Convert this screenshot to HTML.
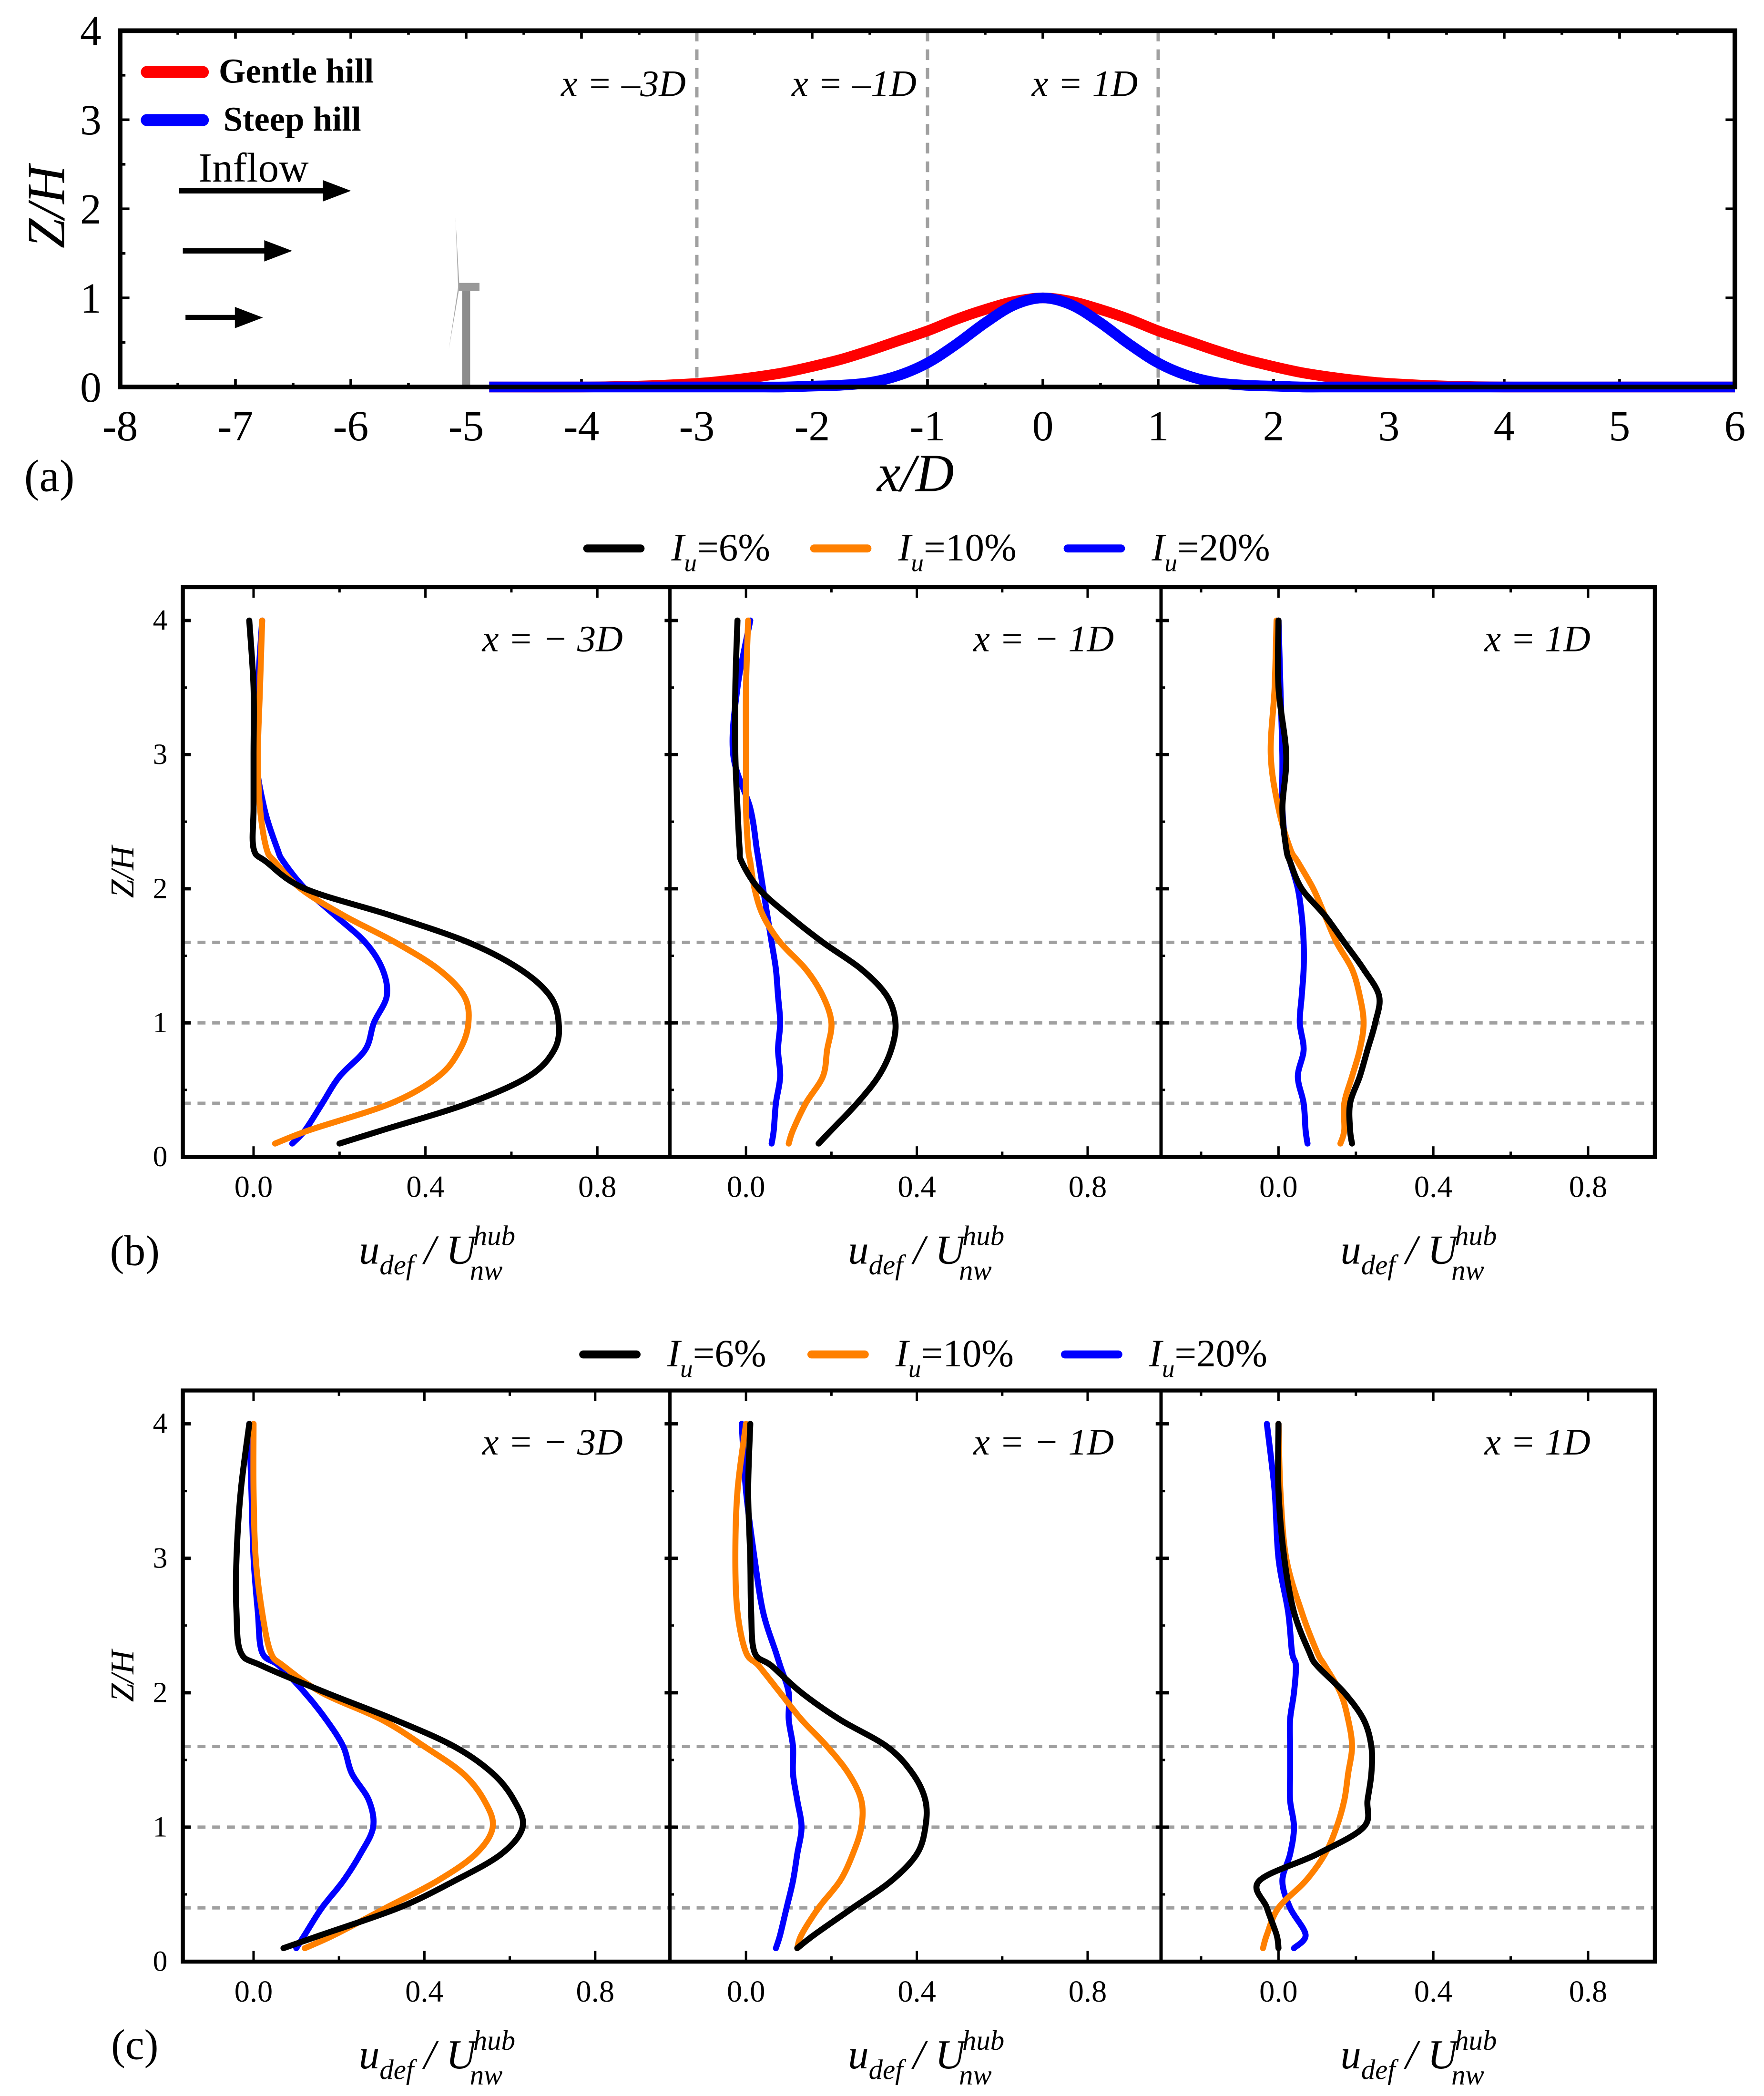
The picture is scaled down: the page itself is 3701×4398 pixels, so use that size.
<!DOCTYPE html>
<html><head><meta charset="utf-8"><style>
html,body{margin:0;padding:0;background:#fff}
svg{display:block;font-family:"Liberation Serif","Times New Roman",serif}
text{font-family:"Liberation Serif","Times New Roman",serif}
</style></head><body>
<svg id="fig" xmlns="http://www.w3.org/2000/svg" width="3701" height="4398" viewBox="0 0 1321.8 1570.7" preserveAspectRatio="none" font-family="Liberation Serif, serif"></svg>
<script>
// ---- Panel (a) data ----
const hillX = [-4.8,-4,-3.5,-3,-2.75,-2.5,-2.25,-2,-1.75,-1.5,-1.25,-1,-0.75,-0.5,-0.25,0,0.25,0.5,0.75,1,1.25,1.5,1.75,2,2.25,2.5,2.75,3,3.5,4,5,6];
const gentleZ = [0,0,0.01,0.04,0.07,0.11,0.16,0.23,0.31,0.41,0.52,0.63,0.76,0.87,0.96,1,0.96,0.87,0.76,0.63,0.52,0.41,0.31,0.23,0.16,0.11,0.07,0.04,0.01,0,0,0];
const steepZ = [0,0,0,0,0,0,0,0.01,0.02,0.05,0.13,0.27,0.48,0.72,0.92,1,0.92,0.72,0.48,0.27,0.13,0.05,0.02,0.01,0,0,0,0,0,0,0,0];
const aXTicks = [-8,-7,-6,-5,-4,-3,-2,-1,0,1,2,3,4,5,6];
const aYTicks = [0,1,2,3,4];
const sections = [-3,-1,1];
const sectionLabels = ["x = \u20133D","x = \u20131D","x = 1D"];
// ---- Panels (b),(c) data ----
const zLevels = [0.1,0.2,0.4,0.6,0.8,1.0,1.2,1.4,1.6,1.8,2.0,2.2,2.3,2.6,3.0,3.5,4.0];
const seriesNames = ["Iu=6%","Iu=10%","Iu=20%"];
const bBlack1=[0.2,0.3,0.5,0.64,0.7,0.71,0.69,0.62,0.5,0.32,0.12,0.03,0.0,0.0,0.0,0.0,-0.01];
const bOrange1=[0.05,0.13,0.32,0.43,0.48,0.5,0.49,0.43,0.33,0.21,0.11,0.05,0.03,0.015,0.01,0.015,0.02];
const bBlue1=[0.09,0.12,0.16,0.2,0.26,0.28,0.31,0.3,0.26,0.19,0.12,0.07,0.055,0.025,0.005,0.01,0.02];
const bBlack2=[0.17,0.2,0.26,0.31,0.34,0.35,0.33,0.27,0.18,0.1,0.03,-0.01,-0.015,-0.02,-0.025,-0.025,-0.02];
const bOrange2=[0.1,0.11,0.14,0.18,0.19,0.2,0.18,0.14,0.08,0.04,0.02,0.01,0.005,0.0,0.0,0.0,0.005];
const bBlue2=[0.06,0.065,0.07,0.08,0.075,0.08,0.075,0.07,0.06,0.05,0.04,0.03,0.025,0.01,-0.03,-0.02,0.01];
const bBlack3=[0.19,0.185,0.185,0.21,0.23,0.25,0.26,0.22,0.17,0.12,0.06,0.03,0.02,0.01,0.02,0.0,0.0];
const bOrange3=[0.16,0.17,0.17,0.19,0.21,0.22,0.21,0.19,0.15,0.12,0.09,0.05,0.03,0.0,-0.02,-0.01,-0.005];
const bBlue3=[0.075,0.07,0.065,0.05,0.065,0.055,0.06,0.065,0.065,0.06,0.05,0.03,0.02,0.01,0.01,0.005,0.0];
const cBlack1=[0.07,0.16,0.34,0.47,0.58,0.63,0.61,0.56,0.47,0.33,0.17,0.02,-0.03,-0.04,-0.04,-0.03,-0.01];
const cOrange1=[0.12,0.19,0.31,0.43,0.52,0.56,0.54,0.49,0.4,0.3,0.16,0.07,0.04,0.02,0.005,0.0,0.0];
const cBlue1=[0.1,0.12,0.16,0.21,0.25,0.28,0.27,0.23,0.21,0.17,0.12,0.06,0.02,0.01,0.0,-0.005,-0.01];
const cBlack2=[0.12,0.16,0.25,0.34,0.4,0.42,0.42,0.39,0.33,0.22,0.13,0.06,0.02,0.012,0.01,0.005,0.01];
const cOrange2=[0.12,0.13,0.17,0.22,0.25,0.27,0.27,0.24,0.19,0.13,0.08,0.03,0.0,-0.02,-0.025,-0.02,0.0];
const cBlue2=[0.07,0.08,0.095,0.11,0.12,0.13,0.12,0.11,0.11,0.1,0.1,0.08,0.07,0.04,0.02,0.0,-0.01];
const cBlack3=[0.0,-0.005,-0.03,-0.05,0.1,0.22,0.23,0.24,0.24,0.22,0.17,0.1,0.08,0.04,0.015,0.0,0.0];
const cOrange3=[-0.04,-0.03,0.0,0.07,0.12,0.15,0.17,0.18,0.19,0.18,0.16,0.12,0.1,0.06,0.02,0.005,0.0];
const cBlue3=[0.04,0.07,0.03,0.01,0.03,0.04,0.03,0.03,0.03,0.03,0.04,0.045,0.035,0.025,0.0,-0.01,-0.03];
const uTicks = [0.0,0.4,0.8];
const zTicks = [0,1,2,3,4];
const guideZ = [0.4,1.0,1.6];

const NS="http://www.w3.org/2000/svg";
const svg=document.getElementById('fig');
const FF='Liberation Serif, serif';
function el(tag,attrs,parent){const e=document.createElementNS(NS,tag);for(const k in attrs)e.setAttribute(k,attrs[k]);(parent||svg).appendChild(e);return e;}
function txt(s,x,y,size,parent,extra){const t=el('text',Object.assign({x:x,y:y,'font-size':size,'text-anchor':'middle','font-family':FF},extra||{}),parent);t.textContent=s;return t;}
function smooth(pts){let d='M'+pts[0][0].toFixed(2)+','+pts[0][1].toFixed(2);
 for(let i=0;i<pts.length-1;i++){const p0=pts[Math.max(0,i-1)],p1=pts[i],p2=pts[i+1],p3=pts[Math.min(pts.length-1,i+2)];
 const c1=[p1[0]+(p2[0]-p0[0])/6,p1[1]+(p2[1]-p0[1])/6],c2=[p2[0]-(p3[0]-p1[0])/6,p2[1]-(p3[1]-p1[1])/6];
 d+=' C'+c1[0].toFixed(2)+','+c1[1].toFixed(2)+' '+c2[0].toFixed(2)+','+c2[1].toFixed(2)+' '+p2[0].toFixed(2)+','+p2[1].toFixed(2);}return d;}

// ===== Panel (a) =====
const gA=el('g',{});


const ax0=90,ax1=1300,ay0=290,ay1=23;
const xA=v=>ax0+(v+8)*(ax1-ax0)/14, yA=v=>ay0-v*(ay0-ay1)/4;
aXTicks.forEach(v=>{
 const t=el('line',{x1:xA(v),x2:xA(v),y1:ay0,y2:ay0-6,stroke:'#000','stroke-width':2},gA);
 
 el('line',{x1:xA(v),x2:xA(v),y1:ay1,y2:ay1+6,stroke:'#000','stroke-width':2},gA);
 if(v<6){el('line',{x1:xA(v+0.5),x2:xA(v+0.5),y1:ay0,y2:ay0-3,stroke:'#000','stroke-width':2},gA);el('line',{x1:xA(v+0.5),x2:xA(v+0.5),y1:ay1,y2:ay1+3,stroke:'#000','stroke-width':2},gA);}
 const l=txt(String(v),xA(v),330,32,gA);
});
aYTicks.forEach(v=>{
 el('line',{x1:ax0,x2:ax0+7,y1:yA(v),y2:yA(v),stroke:'#000','stroke-width':2},gA);
 el('line',{x1:ax1,x2:ax1-7,y1:yA(v),y2:yA(v),stroke:'#000','stroke-width':2},gA);
 if(v<4){el('line',{x1:ax0,x2:ax0+4,y1:yA(v+0.5),y2:yA(v+0.5),stroke:'#000','stroke-width':2},gA);}
 const l=txt(String(v),68,yA(v)+11,32,gA);
});
sections.forEach((s,i)=>{
 const d=el('line',{x1:xA(s),x2:xA(s),y1:ay1,y2:ay0,stroke:'#a0a0a0','stroke-width':2.5,'stroke-dasharray':'8,6'},gA);
 
 const l=txt(sectionLabels[i],xA(s)-55,72,28,gA,{'font-style':'italic'});
});
// turbine
const tb=el('g',{},gA);
el('rect',{x:xA(-5)-3,y:217,width:6,height:73,fill:'#8c8c8c'},tb);
el('rect',{x:xA(-5)-6,y:212,width:16,height:6,fill:'#999'},tb);
el('path',{d:`M${xA(-5)-6},215 L${xA(-5)-8},163 L${xA(-5)-5},215 Z`,fill:'#aaa'},tb);
el('path',{d:`M${xA(-5)-6},215 L${xA(-5)-13},262 L${xA(-5)-5},215 Z`,fill:'#aaa'},tb);
function hillPath(zs){return smooth(hillX.map((x,i)=>[xA(x),yA(zs[i])]));}
const red=el('path',{d:hillPath(gentleZ),fill:'none',stroke:'#ff0000','stroke-width':8},gA);

const blue=el('path',{d:hillPath(steepZ),fill:'none',stroke:'#0000ff','stroke-width':8},gA);

const fa=el('rect',{x:ax0,y:ay1,width:ax1-ax0,height:ay0-ay1,fill:'none',stroke:'#000','stroke-width':3.5},gA);

// legend a
const lgA=el('g',{},gA);
el('line',{x1:110,x2:152,y1:54,y2:54,stroke:'#ff0000','stroke-width':9,'stroke-linecap':'round'},lgA);
txt('Gentle hill',222,62,26,lgA,{'font-weight':'bold'});
el('line',{x1:110,x2:152,y1:90,y2:90,stroke:'#0000ff','stroke-width':9,'stroke-linecap':'round'},lgA);
txt('Steep hill',219,98,26,lgA,{'font-weight':'bold'});
txt('Inflow',190,136,31,gA);
const arrows=[[134,263,143],[137,219,188],[139,197,238]];
arrows.forEach(a=>{const g=el('g',{},gA);
 el('line',{x1:a[0],x2:a[1]-18,y1:a[2],y2:a[2],stroke:'#000','stroke-width':4},g);
 el('path',{d:`M${a[1]-21},${a[2]-8} L${a[1]},${a[2]} L${a[1]-21},${a[2]+8} Z`,fill:'#000'},g);});
const yla=txt('Z/H',0,0,40,gA,{'font-style':'italic',transform:'translate(48,155) rotate(-90)'});

const xla=txt('x/D',686,368,40,gA,{'font-style':'italic'});
txt('(a)',37,368,34,gA);

// ===== Panels (b),(c) =====
function panel(name,top,bot,x0s,scales,data,legY,legX,label,labelY){
 const g=el('g',{});
 
 
 const z4=top+25;
 const yZ=v=>bot-v*(bot-z4)/4;
 const edges=[137,502,870,1240];
 const titles=['x = \u2212 3D','x = \u2212 1D','x = 1D'];
 guideZ.forEach(z=>{const l=el('line',{x1:137,x2:1240,y1:yZ(z),y2:yZ(z),stroke:'#a0a0a0','stroke-width':2.5,'stroke-dasharray':'6,5'},g);
  });
 for(let s=0;s<3;s++){
  const xU=v=>x0s[s]+v*scales[s];
  for(let v=-0.2;v<=1.0001;v+=0.2){const X=xU(v);if(X<=edges[s]+1||X>=edges[s+1]-1)continue;
   const maj=Math.abs(Math.round(v*10)%4)===0; const len=maj?8:4;
   el('line',{x1:X,x2:X,y1:bot,y2:bot-len,stroke:'#000','stroke-width':1.8},g);
   el('line',{x1:X,x2:X,y1:top,y2:top+len,stroke:'#000','stroke-width':1.8},g);}
  uTicks.forEach(v=>{const l=txt(v.toFixed(1),xU(v),bot+30,23,g);});
  zTicks.forEach(v=>{el('line',{x1:edges[s]-(s?4:0),x2:edges[s]+6,y1:yZ(v),y2:yZ(v),stroke:'#000','stroke-width':2.5},g);
   if(v<4)el('line',{x1:edges[s],x2:edges[s]+3,y1:yZ(v+0.5),y2:yZ(v+0.5),stroke:'#000','stroke-width':1.8},g);
   if(s===0){const l=txt(String(v),120,yZ(v)+7,22,g);}});
  const colors=['#000000','#ff8000','#0000ff'];
  [2,1,0].forEach(k=>{const arr=data[s][k];
   const p=el('path',{d:smooth(zLevels.map((z,i)=>[xU(arr[i]),yZ(z)])),fill:'none',stroke:colors[k],'stroke-width':4.5,'stroke-linecap':'round'},g);
   
   });
  const t=txt(titles[s],edges[s+1]-88,top+48,28,g,{'font-style':'italic'});
  const xl=el('text',{x:(edges[s]+edges[s+1])/2+8,y:bot+80,'font-size':31,'text-anchor':'middle','font-style':'italic','font-family':FF},g);
  
  xl.innerHTML='u<tspan font-size="21" dy="8">def</tspan><tspan dy="-8"> / U</tspan><tspan font-size="21" dy="-14" dx="-2">hub</tspan><tspan font-size="21" dy="26" dx="-34">nw</tspan>';
 }
 [502,870].forEach(x=>el('line',{x1:x,x2:x,y1:top,y2:bot,stroke:'#000','stroke-width':2.5},g));
 const fr=el('rect',{x:137,y:top,width:1103,height:bot-top,fill:'none',stroke:'#000','stroke-width':3},g);
 
 const yl=txt('Z/H',0,0,25,g,{'font-style':'italic',transform:`translate(100,${(top+bot)/2}) rotate(-90)`});
 
 txt(label,101,labelY,32,g);
 const lg=el('g',{},g);
 const cols=['#000','#ff8000','#0000ff'];const vals=['6%','10%','20%'];
 for(let k=0;k<3;k++){const x=legX[k];
  const e=el('g',{},lg);
  el('line',{x1:x,x2:x+40,y1:legY,y2:legY,stroke:cols[k],'stroke-width':6,'stroke-linecap':'round'},e);
  const t=el('text',{x:x+63,y:legY+9,'font-size':29,'font-family':FF},e);
  t.innerHTML='<tspan font-style="italic">I</tspan><tspan font-style="italic" font-size="19" dy="8">u</tspan><tspan dy="-8">='+vals[k]+'</tspan>';}
}
panel('panel-b',440,867,[190,559,958],[322,320,290],
 [[bBlack1,bOrange1,bBlue1],[bBlack2,bOrange2,bBlue2],[bBlack3,bOrange3,bBlue3]],411,[440,610,800],'(b)',948);
panel('panel-c',1042,1470,[190,559,958],[320,320,290],
 [[cBlack1,cOrange1,cBlue1],[cBlack2,cOrange2,cBlue2],[cBlack3,cOrange3,cBlue3]],1015,[437,608,798],'(c)',1543);
</script>
</body></html>
